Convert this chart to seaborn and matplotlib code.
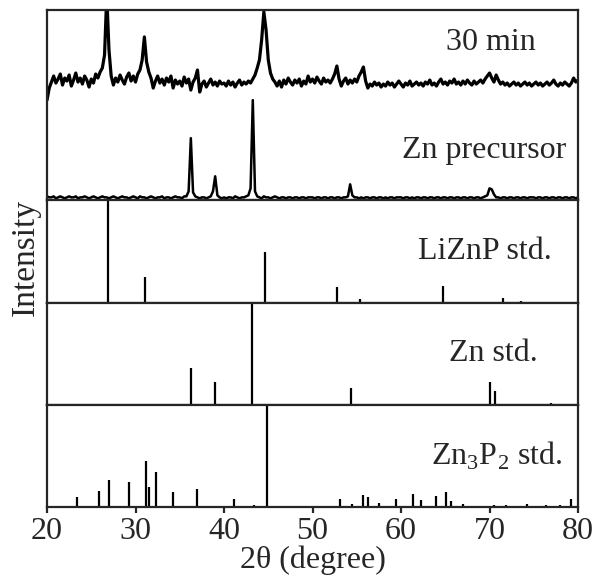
import numpy as np
import seaborn as sns
import matplotlib.pyplot as plt

sns.set_style("ticks")
plt.rcParams['font.family'] = ['Liberation Serif', 'DejaVu Serif']
plt.rcParams['mathtext.fontset'] = 'custom'
plt.rcParams['mathtext.rm'] = 'Liberation Serif'

# measured patterns, sampled every 0.25 deg from 20 to 80
tth = np.round(np.arange(20, 80.001, 0.25), 2)

int_30min = [
    100, 112, 118, 124, 117, 121, 126, 115, 122, 119, 125, 114, 120, 127, 118, 122, 116, 124, 120, 113,
    121, 117, 126, 122, 128, 132, 145, 205, 150, 124, 115, 122, 118, 125, 120, 116, 123, 127, 119, 124,
    118, 126, 130, 140, 163, 138, 128, 122, 112, 119, 124, 117, 121, 115, 122, 118, 124, 112, 120, 116,
    119, 114, 123, 117, 121, 110, 118, 122, 130, 108, 116, 119, 113, 117, 121, 115, 118, 114, 119, 116,
    117, 114, 119, 115, 118, 113, 117, 120, 115, 118, 116, 119, 117, 121, 125, 132, 140, 160, 188, 170,
    140, 127, 121, 118, 114, 119, 113, 120, 116, 122, 118, 115, 120, 117, 121, 114, 119, 116, 124, 118,
    121, 117, 123, 119, 116, 122, 118, 120, 117, 121, 126, 134, 121, 114, 119, 122, 116, 120, 117, 121,
    118, 124, 128, 133, 119, 112, 116, 114, 118, 115, 117, 113, 116, 114, 118, 115, 117, 113, 116, 119,
    116, 113, 117, 115, 119, 114, 116, 118, 115, 117, 114, 118, 116, 120, 115, 117, 114, 118, 121, 116,
    118, 115, 119, 117, 121, 116, 118, 115, 119, 116, 120, 117, 115, 119, 116, 118, 120, 117, 121, 124,
    127, 122, 118, 125, 120, 116, 118, 115, 117, 114, 116, 118, 115, 117, 114, 116, 118, 115, 117, 114,
    116, 118, 115, 117, 114, 116, 118, 115, 117, 120, 116, 114, 117, 115, 118, 116, 114, 117, 122, 118,
    120,
]

int_precursor = [
    4, 3, 3, 4, 2, 3, 4, 3, 2, 3, 4, 3, 3, 4, 2, 3, 3, 4, 3, 2,
    3, 4, 3, 2, 3, 4, 3, 3, 2, 3, 4, 3, 2, 3, 4, 3, 3, 2, 3, 4,
    3, 2, 4, 3, 3, 2, 3, 4, 3, 2, 3, 3, 4, 2, 3, 3, 2, 3, 4, 3,
    3, 2, 4, 4, 9, 62, 8, 4, 3, 2, 3, 3, 2, 3, 4, 9, 24, 5, 3, 2,
    3, 2, 3, 3, 2, 4, 3, 2, 3, 3, 4, 5, 12, 100, 9, 4, 3, 2, 4, 3,
    3, 2, 3, 4, 3, 2, 3, 3, 2, 3, 3, 2, 3, 3, 2, 3, 3, 2, 3, 3,
    3, 2, 3, 3, 2, 3, 3, 2, 3, 3, 2, 3, 3, 2, 3, 3, 4, 16, 5, 3,
    3, 2, 3, 2, 3, 3, 2, 3, 3, 2, 3, 3, 2, 3, 2, 3, 3, 2, 3, 3,
    3, 2, 3, 3, 2, 3, 2, 3, 3, 2, 3, 3, 2, 3, 3, 2, 3, 3, 2, 3,
    3, 2, 3, 3, 2, 3, 3, 2, 3, 3, 2, 3, 3, 2, 3, 3, 2, 3, 4, 5,
    12, 11, 6, 3, 3, 2, 3, 3, 2, 3, 3, 2, 3, 3, 2, 3, 3, 2, 3, 3,
    3, 2, 3, 3, 2, 3, 3, 2, 3, 3, 2, 3, 3, 2, 3, 3, 2, 3, 3, 2,
    3,
]

# reference stick patterns (relative intensity, %)
lizp_pos = [26.9, 31.1, 44.6, 52.8, 55.4, 64.7, 71.5, 73.6]
lizp_int = [100, 25, 50, 15, 4, 16, 5, 2]

zn_pos = [36.3, 39.0, 43.2, 54.3, 70.1, 70.6, 77.0]
zn_int = [36, 22, 100, 17, 22, 14, 2]

zn3p2_pos = [23.4, 25.9, 27.0, 29.3, 31.2, 31.5, 32.3, 33.3, 34.2, 36.9, 41.1, 43.4,
             44.8, 46.3, 47.9, 50.8, 53.1, 54.5, 55.7, 56.3, 57.5, 59.4, 61.4, 62.2,
             64.0, 65.1, 65.6, 67.0, 70.5, 71.9, 74.2, 76.4, 78.0, 79.2]
zn3p2_int = [10, 16, 27, 25, 45, 20, 34, 1, 15, 18, 8, 2,
             100, 1, 1, 1, 8, 3, 12, 10, 4, 8, 13, 7,
             11, 15, 6, 3, 2, 2, 3, 2, 2, 8]

fig = plt.figure(figsize=(5.99, 5.79), dpi=100)
gs = fig.add_gridspec(4, 1, height_ratios=[190, 102, 102, 102], hspace=0,
                      left=0.0785, right=0.965, top=0.983, bottom=0.124)
axes = [fig.add_subplot(gs[i]) for i in range(4)]

ax = axes[0]
sns.lineplot(x=tth, y=int_30min, ax=ax, color='black', lw=2.3)
sns.lineplot(x=tth, y=int_precursor, ax=ax, color='black', lw=1.8)
ax.set_ylim(0, 190)
ax.text(0.92, 0.83, '30 min', transform=ax.transAxes, ha='right', va='center', fontsize=23)
ax.text(0.978, 0.26, 'Zn precursor', transform=ax.transAxes, ha='right', va='center', fontsize=23)

sticks = [
    (lizp_pos, lizp_int, 'LiZnP std.', 0.95),
    (zn_pos, zn_int, 'Zn std.', 0.924),
    (zn3p2_pos, zn3p2_int, r'Zn$_3$P$_2$ std.', 0.97),
]
for ax, (pos, inten, label, xr) in zip(axes[1:], sticks):
    ax.vlines(pos, 0, inten, color='black', lw=1.6)
    ax.set_ylim(0, 100)
    ax.text(xr, 0.5, label, transform=ax.transAxes, ha='right', va='center', fontsize=23)

for ax in axes:
    ax.set_xlim(20, 80)
    ax.set_yticks([])
    ax.set_ylabel('')
    for s in ax.spines.values():
        s.set_linewidth(1.6)
        s.set_visible(True)
    if ax is not axes[-1]:
        ax.tick_params(axis='x', bottom=False, labelbottom=False)

axes[-1].set_xticks(range(20, 81, 10))
axes[-1].tick_params(axis='x', direction='out', length=4, width=1.6, labelsize=23, pad=3)
axes[-1].set_xlabel('2θ (degree)', fontsize=23, labelpad=0)
fig.text(0.042, 0.555, 'Intensity', rotation=90, ha='center', va='center', fontsize=24)

fig.savefig('out.png', dpi=100)
